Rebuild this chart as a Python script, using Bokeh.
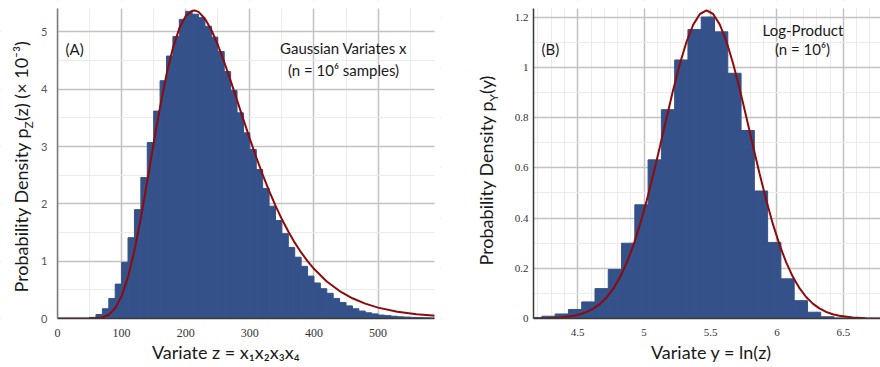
from bokeh.plotting import figure
from bokeh.models import (Range1d, SingleIntervalTicker, Label, CustomJSTickFormatter,
                          LinearAxis, Grid)
from bokeh.layouts import row
from bokeh.embed import file_html
from bokeh.resources import INLINE

# ---------------- data ----------------
# Panel A: product z = x1 x2 x3 x4, density in units of 1e-3
z_bin_left = [50, 60, 70, 80, 90, 100, 110, 120, 130, 140, 150, 160, 170, 180, 190,
              200, 210, 220, 230, 240, 250, 260, 270, 280, 290, 300, 310, 320, 330,
              340, 350, 360, 370, 380, 390, 400, 410, 420, 430, 440, 450, 460, 470,
              480, 490, 500, 510, 520, 530, 540, 550, 560, 570, 580]
z_density = [0.02, 0.07, 0.17, 0.35, 0.60, 0.98, 1.41, 1.90, 2.46, 3.07, 3.62, 4.15, 4.58,
             4.92, 5.22, 5.36, 5.31, 5.25, 5.10, 4.91, 4.66, 4.31, 3.98, 3.59, 3.24, 2.95,
             2.60, 2.27, 1.96, 1.71, 1.48, 1.24, 1.07, 0.91, 0.74, 0.62, 0.52, 0.44, 0.35,
             0.28, 0.22, 0.17, 0.13, 0.10, 0.08, 0.06, 0.05, 0.04, 0.03, 0.025, 0.02,
             0.015, 0.012, 0.01]
z_bin_width = 10
z_curve_x = [0, 50, 60, 70, 80, 90, 100, 110, 120, 130, 140, 150, 160, 170, 180, 190, 200,
             210, 215, 220, 230, 240, 250, 260, 270, 280, 290, 300, 310, 320, 330, 340, 350,
             360, 370, 380, 390, 400, 420, 440, 460, 480, 500, 530, 560, 590]
z_curve_y = [0.0, 0.0004, 0.0034, 0.018, 0.066, 0.178, 0.390, 0.725, 1.187, 1.757, 2.396,
             3.058, 3.694, 4.258, 4.722, 5.064, 5.279, 5.371, 5.373, 5.350, 5.231, 5.035,
             4.777, 4.477, 4.151, 3.812, 3.470, 3.135, 2.814, 2.511, 2.228, 1.969, 1.731,
             1.517, 1.324, 1.153, 1.001, 0.867, 0.646, 0.479, 0.353, 0.259, 0.190, 0.118,
             0.074, 0.046]

# Panel B: log-product y = ln(z)
y_bin_left = [4.13, 4.23, 4.33, 4.43, 4.53, 4.63, 4.73, 4.83, 4.93, 5.03, 5.13, 5.23,
              5.33, 5.43, 5.53, 5.63, 5.73, 5.83, 5.93, 6.03, 6.13, 6.23, 6.33, 6.43]
y_density = [0.003, 0.009, 0.018, 0.036, 0.066, 0.119, 0.195, 0.300, 0.453, 0.632, 0.832,
             1.030, 1.151, 1.201, 1.142, 0.977, 0.749, 0.508, 0.303, 0.158, 0.071, 0.025,
             0.007, 0.002]
y_bin_width = 0.1
y_curve_x = [4.17, 4.27, 4.37, 4.47, 4.52, 4.57, 4.62, 4.67, 4.72, 4.77, 4.82, 4.87, 4.92,
             4.97, 5.02, 5.07, 5.12, 5.17, 5.22, 5.27, 5.32, 5.37, 5.42, 5.47, 5.52, 5.57,
             5.62, 5.67, 5.72, 5.77, 5.82, 5.87, 5.92, 5.97, 6.02, 6.07, 6.12, 6.17, 6.22,
             6.27, 6.32, 6.37, 6.42, 6.47, 6.57, 6.67, 6.78]
y_curve_y = [0.0004, 0.0013, 0.0040, 0.0108, 0.0171, 0.0265, 0.0402, 0.0593, 0.0856,
             0.1207, 0.1661, 0.2233, 0.2932, 0.3759, 0.4707, 0.5756, 0.6874, 0.8017, 0.9132,
             1.0158, 1.1035, 1.1707, 1.2131, 1.2275, 1.2131, 1.1707, 1.1035, 1.0158, 0.9132,
             0.8017, 0.6874, 0.5756, 0.4707, 0.3759, 0.2932, 0.2233, 0.1661, 0.1207, 0.0856,
             0.0593, 0.0402, 0.0265, 0.0171, 0.0108, 0.0040, 0.0013, 0.0004]

# ---------------- style ----------------
BAR = "#34518a"
CURVE = "#8d0b0b"
SANS = "Lato"
SERIF = "Liberation Serif"
W, H = 440, 367
TOP, BOT = 8, 318          # plot-area top / bottom in pixels
ROT = 1.5707963267948966
LIFT = 0.33                # baseline correction, fraction of font size


def build(xr, yr, L, R):
    """Figure whose canvas is all frame; the data area sits at pixels L..R, TOP..BOT."""
    sx = (R - L) / (xr[1] - xr[0])
    sy = (BOT - TOP) / (yr[1] - yr[0])
    fx = (xr[0] - L / sx, xr[1] + (W - R) / sx)
    fy = (yr[0] - (H - BOT) / sy, yr[1] + TOP / sy)
    p = figure(width=W, height=H, x_range=Range1d(*fx), y_range=Range1d(*fy),
               x_axis_location=None, y_axis_location=None, min_border=0,
               output_backend="svg", toolbar_location=None)
    p.outline_line_color = None
    p.background_fill_color = "white"
    p.border_fill_color = "white"

    def conv(px, py):
        return fx[0] + px / sx, fy[1] - py / sy
    return p, fx, fy, conv


def grids(p, xr, yr, xt, yt):
    for dim, t, b in ((0, xt, xr), (1, yt, yr)):
        p.add_layout(Grid(dimension=dim, ticker=t, bounds=b,
                          grid_line_color="#c2c2c2", grid_line_width=1.5,
                          minor_grid_line_color="#ebebeb", minor_grid_line_width=1))


def masks(p, xr, yr, fx, fy):
    # white margins so grid lines stop at the plot area
    p.quad(left=[fx[0], xr[1], fx[0], fx[0]], right=[xr[0], fx[1], fx[1], fx[1]],
           bottom=[fy[0], fy[0], fy[0], yr[1]], top=[fy[1], fy[1], yr[0], fy[1]],
           fill_color="white", line_color=None)


def axes(p, xr, yr, xt, yt, xfont, xsize, xstand, yfont, ysize, ystand, ycolor, yline,
         fmt=None):
    common = dict(major_tick_line_color=None, minor_tick_line_color=None,
                  major_tick_out=0, major_tick_in=0, minor_tick_out=0, minor_tick_in=0,
                  axis_line_width=1.5)
    xa = LinearAxis(ticker=xt, fixed_location=yr[0], bounds=xr,
                    axis_line_color="#3a3a3a",
                    major_label_text_font=xfont, major_label_text_font_size=xsize,
                    major_label_text_color="#333333", major_label_standoff=xstand, **common)
    ya = LinearAxis(ticker=yt, fixed_location=xr[0], bounds=yr,
                    axis_line_color=yline,
                    major_label_text_font=yfont, major_label_text_font_size=ysize,
                    major_label_text_color=ycolor, major_label_standoff=ystand, **common)
    if fmt is not None:
        xa.formatter = CustomJSTickFormatter(code=fmt)
        ya.formatter = CustomJSTickFormatter(code=fmt)
    p.add_layout(xa, "below")
    p.add_layout(ya, "left")


def add_label(p, conv, px, py, text, size, align="left", vertical=False, color="#1a1a1a"):
    # (px, py): wanted baseline start (or centre) in canvas pixels
    if vertical:
        px = px - LIFT * size
    else:
        py = py - LIFT * size
    x, y = conv(px, py)
    p.add_layout(Label(x=x, y=y, text=text, text_font=SANS, text_font_size=f"{size}px",
                       text_align=align, text_baseline="alphabetic",
                       angle=ROT if vertical else 0.0, text_color=color))


# ---------------- panel A ----------------
A_XR, A_YR = (0, 588), (0, 5.41)
pa, afx, afy, conv_a = build(A_XR, A_YR, 57, 434)
axt = SingleIntervalTicker(interval=100, num_minor_ticks=2)
ayt = SingleIntervalTicker(interval=1, num_minor_ticks=2)
grids(pa, A_XR, A_YR, axt, ayt)
pa.quad(left=z_bin_left, right=[b + z_bin_width for b in z_bin_left],
        bottom=0, top=z_density, fill_color=BAR, line_color=BAR, line_width=1)
pa.line(z_curve_x, z_curve_y, line_color=CURVE, line_width=2)
masks(pa, A_XR, A_YR, afx, afy)
axes(pa, A_XR, A_YR, axt, ayt, SERIF, "12px", 10, SANS, "11px", 10, "#555555", "#7a7a7a")

add_label(pa, conv_a, 65, 53, "(A)", 15)
add_label(pa, conv_a, 343, 52.5, "Gaussian Variates x", 15, align="center")
add_label(pa, conv_a, 343, 74.5, "(n = 10\u2076 samples)", 15, align="center")
add_label(pa, conv_a, 151.5, 357.5, "Variate z = x\u2081x\u2082x\u2083x\u2084", 18)
A_BASE, A_START = 26, 292
wa1, waz = 164, 7.5
add_label(pa, conv_a, A_BASE, A_START, "Probability Density p", 18, vertical=True)
add_label(pa, conv_a, A_BASE + 4 + LIFT * 6, A_START - wa1, "Z", 12, vertical=True)
add_label(pa, conv_a, A_BASE, A_START - wa1 - waz, "(z) (\u00d7 10\u207b\u00b3)", 18,
          vertical=True)

# ---------------- panel B ----------------
B_XR, B_YR = (4.167, 6.78), (0, 1.235)
pb, bfx, bfy, conv_b = build(B_XR, B_YR, 93, 440)
bxt = SingleIntervalTicker(interval=0.5, num_minor_ticks=5)
byt = SingleIntervalTicker(interval=0.2, num_minor_ticks=2)
grids(pb, B_XR, B_YR, bxt, byt)
pb.quad(left=y_bin_left, right=[b + y_bin_width for b in y_bin_left],
        bottom=0, top=y_density, fill_color=BAR, line_color=BAR, line_width=1)
pb.line(y_curve_x, y_curve_y, line_color=CURVE, line_width=2)
masks(pb, B_XR, B_YR, bfx, bfy)
fmt = "return (Math.round(tick * 100) / 100).toString();"
axes(pb, B_XR, B_YR, bxt, byt, SERIF, "11px", 10, SERIF, "11px", 5, "#333333", "#3a3a3a",
     fmt=fmt)

add_label(pb, conv_b, 541 - 440, 53, "(B)", 15)
add_label(pb, conv_b, 802.5 - 440, 34, "Log-Product", 15, align="center")
add_label(pb, conv_b, 802 - 440, 53, "(n = 10\u2076)", 15, align="center")
add_label(pb, conv_b, 650.5 - 440, 357.5, "Variate y = ln(z)", 18)
B_BASE, B_START = 491 - 440, 265
wb1, wby = 164, 7.5
add_label(pb, conv_b, B_BASE, B_START, "Probability Density p", 18, vertical=True)
add_label(pb, conv_b, B_BASE + 4 + LIFT * 6, B_START - wb1, "Y", 12, vertical=True)
add_label(pb, conv_b, B_BASE, B_START - wb1 - wby, "(y)", 18, vertical=True)

layout = row(pa, pb)
open("out.html", "w").write(file_html(layout, INLINE))
